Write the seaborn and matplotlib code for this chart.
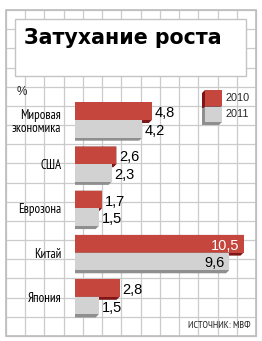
import matplotlib
matplotlib.use("Agg")
import matplotlib.pyplot as plt
from matplotlib.patches import Polygon, Rectangle
import numpy as np
import pandas as pd
import seaborn as sns

# ---- data ----
categories = ["Мировая\nэкономика", "США", "Еврозона", "Китай", "Япония"]
years = ["2010", "2011"]
values_2010 = [4.8, 2.6, 1.7, 10.5, 2.8]
values_2011 = [4.2, 2.3, 1.5, 9.6, 1.5]
title = "Затухание роста"
unit_label = "%"
source_label = "ИСТОЧНИК: МВФ"

df = pd.DataFrame({
    "category": categories * 2,
    "year": [years[0]] * len(categories) + [years[1]] * len(categories),
    "value": values_2010 + values_2011,
})

# ---- style ----
RED = "#c4463c"
RED_DARK = "#7e1517"
GRAY = "#d2d2d2"
GRAY_DARK = "#8f8f8f"
GRID = "#cbcbcb"
NARROW = ["PT Sans Narrow", "DejaVu Sans"]
REGULAR = ["Liberation Sans", "DejaVu Sans"]

sns.set_theme(style="white")
plt.rcParams["font.family"] = REGULAR

W, H = 262, 341
fig = plt.figure(figsize=(W / 100, H / 100), dpi=100)
fig.patch.set_facecolor("white")

# background graph paper (pixel coordinates)
bg = fig.add_axes([0, 0, 1, 1])
bg.set_xlim(0, W)
bg.set_ylim(H, 0)
bg.axis("off")
gx0, gx1, gy0, gy1 = 6, 256, 10, 336
for k in range(14):
    x = gx0 + k * (gx1 - gx0) / 13
    bg.plot([x, x], [gy0, gy1], color=GRID, lw=0.9, zorder=0)
for k in range(18):
    y = gy0 + k * (gy1 - gy0) / 17
    bg.plot([gx0, gx1], [y, y], color=GRID, lw=0.9, zorder=0)
bg.add_patch(Rectangle((gx0, gy0), gx1 - gx0, gy1 - gy0, fill=False,
                       ec="#bdbdbd", lw=1.2, zorder=1))
bg.add_patch(Rectangle((15, 19), 231, 57, fc="white", ec="#c4c4c4", lw=1.0, zorder=2))
bg.text(24, 37.5, title, fontsize=14.8, fontweight="bold", family=["DejaVu Sans"],
        va="center", ha="left", color="black", zorder=3)
bg.text(17, 92, unit_label, fontsize=8.5, family=REGULAR, va="center", ha="left", zorder=3)
bg.text(251, 326, source_label, fontsize=7.3, family=NARROW, va="center", ha="right",
        zorder=3)


def extrude(x0, x1, yt, yb, dx, dy):
    return [(x0, yt), (x1, yt), (x1, yb), (x1 - dx, yb + dy),
            (x0 - dx, yb + dy), (x0 - dx, yt + dy)]


# legend swatches (pixel coords)
for (yt, yb), face, dark, lab in [((90, 105.5), RED, RED_DARK, years[0]),
                                  ((106.5, 122), GRAY, GRAY_DARK, years[1])]:
    bg.add_patch(Polygon(extrude(205, 222, yt, yb, 3, 3), closed=True,
                         fc=dark, ec="none", zorder=3))
    bg.add_patch(Rectangle((205, yt), 17, yb - yt, fc=face, ec="none", zorder=4))
    bg.text(226, (yt + yb) / 2, lab, fontsize=7.8, family=REGULAR,
            va="center", ha="left", zorder=5)

# ---- main bar axes ----
x0_px, xr_px = 74.5, 251.6
yt_px, yb_px = 97.9, 318.9
ax = fig.add_axes([x0_px / W, (H - yb_px) / H, (xr_px - x0_px) / W, (yb_px - yt_px) / H])
ax.patch.set_alpha(0)
sns.barplot(data=df, y="category", x="value", hue="year", orient="h",
            palette=[RED, GRAY], saturation=1, width=0.8, legend=False, ax=ax)
ax.set_xlim(0, 11)
ax.set_ylim(len(categories) - 0.5, -0.5)
ax.set_xlabel("")
ax.set_ylabel("")
ax.set_xticks([])
for s in ax.spines.values():
    s.set_visible(False)
ax.tick_params(axis="y", length=0, pad=9.5, labelsize=9.4, labelcolor="black")
for t in ax.get_yticklabels():
    t.set_family(NARROW)
    t.set_linespacing(1.05)

# pixel -> data conversion
p0 = ax.transData.transform((0, 0))
px_x = ax.transData.transform((1, 0))[0] - p0[0]
px_y = abs(ax.transData.transform((0, 1))[1] - p0[1])
d = 3.0
dxu, dyu = d / px_x, d / px_y

bars = [p for p in ax.patches if isinstance(p, Rectangle) and p.get_width() > 0]
n = len(categories)
for i, p in enumerate(bars):
    series = i // n
    x0 = p.get_x()
    x1 = x0 + p.get_width()
    yt = p.get_y()
    yb = yt + p.get_height()
    dark = RED_DARK if series == 0 else GRAY_DARK
    ax.add_patch(Polygon(extrude(x0, x1, yt, yb, dxu, dyu), closed=True,
                         fc=dark, ec="none", zorder=1 + 2 * series))
    p.set_zorder(2 + 2 * series)
    p.set_edgecolor("none")
    v = p.get_width()
    lab = f"{v:.1f}".replace(".", ",")
    yc = (yt + yb) / 2 + 2 / px_y
    if v > 9:
        ax.text(x1 - 4 / px_x, yc, lab, ha="right", va="center", fontsize=10.5,
                family=REGULAR, color="white" if series == 0 else "black", zorder=10)
    else:
        ax.text(x1 + 3 / px_x, yc, lab, ha="left", va="center", fontsize=10.5,
                family=REGULAR, color="black", zorder=10)

fig.savefig("out.png", dpi=100)
